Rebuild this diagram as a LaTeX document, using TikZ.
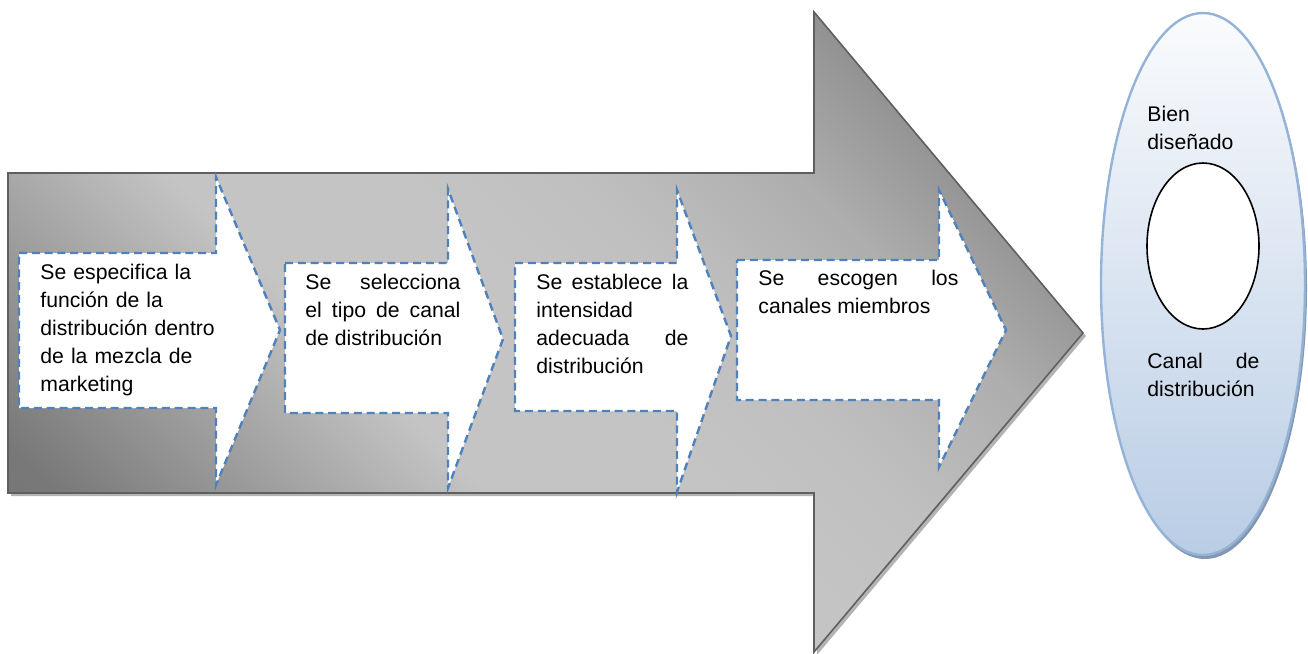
\documentclass[tikz,border=0pt]{standalone}
\usepackage{fontspec}
\setmainfont{Liberation Sans}
\usetikzlibrary{shapes}
\definecolor{azulguion}{HTML}{4F81BD}
\definecolor{bordegris}{HTML}{5F5F5F}
\definecolor{sombragris}{HTML}{B4B4B4}
\definecolor{bordeazul}{HTML}{95B3D7}
\definecolor{sombraazul}{HTML}{8497B0}
\definecolor{azulclaro}{HTML}{FAFBFD}
\definecolor{azulfondo}{HTML}{B9CDE5}
\pgfdeclarehorizontalshading{grisflecha}{100bp}{color(0bp)=(black!56); color(23bp)=(black!53); color(32bp)=(black!38); color(41bp)=(black!23); color(50bp)=(black!23); color(58bp)=(black!25); color(67bp)=(black!32); color(77bp)=(black!47); color(100bp)=(black!48)}
\tikzset{
    %Define standard styles
    flecha/.style={
      draw=bordegris, line width=0.8pt,
      shading=grisflecha, shading angle=45},
    sombra/.style={
      fill=sombragris},
    paso/.style={
      fill=white,
      draw=azulguion, line width=1.2pt,
      dash pattern=on 4pt off 2.4pt},
    texto/.style={
      anchor=base west, inner sep=0pt,
      font=\fontsize{10.6}{14}\selectfont},
}
\def\flechagrande{(8,173) -- (814,173) -- (814,12) -- (1083,333) -- (814,652) -- (814,493) -- (8,493) -- cycle}

\begin{document}
\begin{tikzpicture}[x=0.5pt, y=-0.5pt]
    \useasboundingbox (0,0) rectangle (1308,654);
    % big gray arrow
    \fill[sombra, shift={(3,3)}] \flechagrande;
    \draw[flecha] \flechagrande;
    % the four steps
    \draw[paso] (19,253) -- (216,253) -- (216,177) -- (280,330) -- (216,485) -- (216,408) -- (19,408) -- cycle;
    \draw[paso] (285,263) -- (448,263) -- (448,189) -- (503,339) -- (448,488) -- (448,413) -- (285,413) -- cycle;
    \draw[paso] (515,263) -- (677,263) -- (677,190) -- (731,336) -- (677,492) -- (677,411) -- (515,411) -- cycle;
    \draw[paso] (737,260) -- (939,260) -- (939,190) -- (1006,330) -- (939,467) -- (939,400) -- (737,400) -- cycle;
    \node (funcion) [texto, text width=90pt, align=left] at (40,279)
          {Se especifica la\\función de la\\distribución dentro\\de la mezcla de\\marketing};
    \node (tipo) [texto, text width=77.5pt, align=justify] at (305,289)
          {Se selecciona\linebreak el tipo de canal\linebreak de distribución};
    \node (intensidad) [texto, text width=76pt, align=justify] at (536,289)
          {Se establece la\linebreak intensidad\linebreak adecuada de\linebreak distribución};
    \node (miembros) [texto, text width=100pt, align=justify] at (758,285)
          {Se escogen los\linebreak canales miembros};
    % the channel
    \fill[sombraazul] (1205,288) ellipse [x radius=102, y radius=271];
    \draw[bordeazul, line width=1.2pt, top color=azulclaro, bottom color=azulfondo]
          (1203,284) ellipse [x radius=102, y radius=271];
    \draw[black, line width=0.8pt, fill=white] (1203,246) ellipse [x radius=56, y radius=83];
    \node (bien) [texto, text width=56pt, align=left] at (1147,121)
          {Bien\\diseñado};
    \node (canal) [texto, text width=56pt, align=justify] at (1147,368)
          {Canal de\linebreak distribución};
\end{tikzpicture}
\end{document}
